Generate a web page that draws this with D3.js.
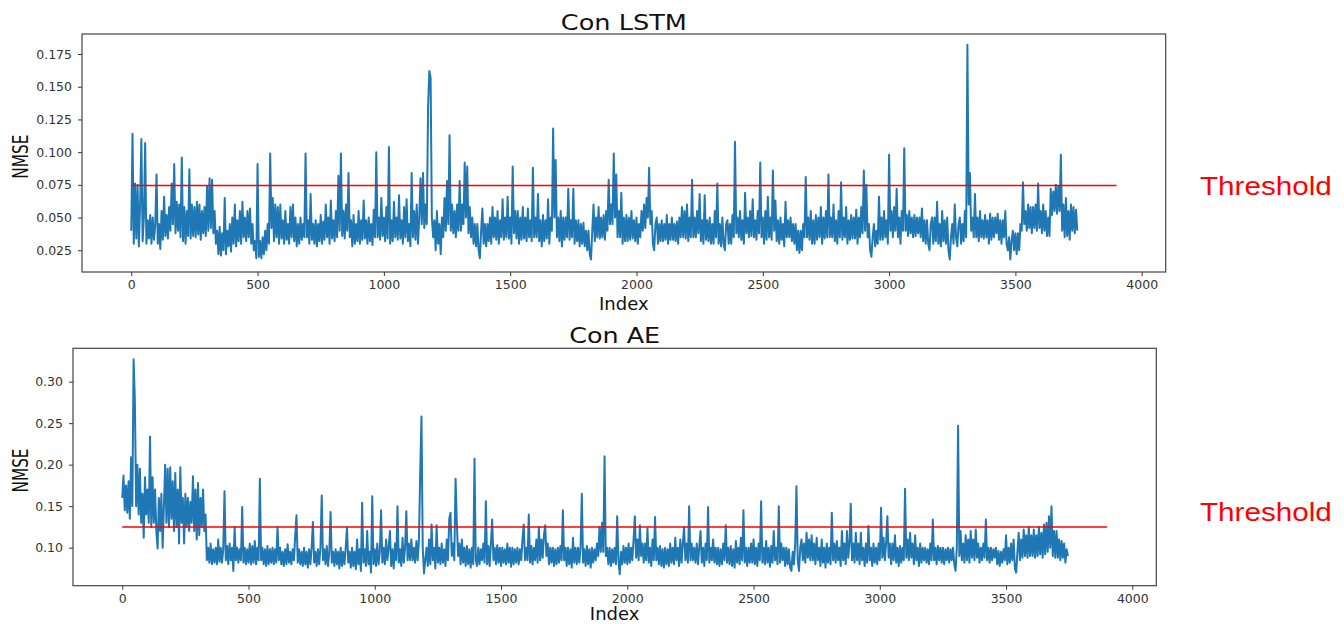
<!DOCTYPE html>
<html><head><meta charset="utf-8">
<script src="https://cdn.jsdelivr.net/npm/d3@7"></script>
<style>html,body{margin:0;padding:0;background:#fff;} svg{display:block;}</style>
</head><body>
<svg id="chart" width="1344" height="624"></svg>
<script>
// ---------- data ----------
const indexTicks = [0, 500, 1000, 1500, 2000, 2500, 3000, 3500, 4000];
const lstmYTicks = [0.025, 0.050, 0.075, 0.100, 0.125, 0.150, 0.175];
const aeYTicks = [0.10, 0.15, 0.20, 0.25, 0.30];
const sampleStep = 5; // index spacing of the values below (one row = 100 indices)
const lstmNmse = [
.040,.114,.030,.076,.034,.075,.028,.060,.110,.032,.050,.107,.030,.048,.034,.052,.030,.050,.033,.045,
.083,.030,.045,.026,.055,.033,.066,.036,.052,.034,.058,.040,.076,.045,.091,.038,.062,.040,.060,.035,
.096,.032,.058,.030,.055,.036,.087,.034,.060,.036,.058,.035,.062,.037,.060,.033,.055,.038,.058,.036,
.074,.040,.080,.042,.079,.038,.055,.030,.040,.022,.043,.021,.038,.025,.065,.022,.040,.028,.045,.024,
.050,.030,.060,.028,.048,.032,.055,.030,.062,.035,.050,.032,.055,.035,.057,.030,.045,.025,.032,.019,
.091,.020,.032,.019,.035,.022,.040,.025,.045,.030,.099,.042,.065,.032,.060,.035,.058,.030,.060,.034,
.048,.030,.055,.033,.045,.030,.058,.035,.060,.032,.050,.028,.045,.030,.050,.033,.045,.035,.099,.035,
.048,.030,.068,.033,.045,.030,.048,.028,.045,.032,.052,.030,.047,.033,.060,.035,.050,.030,.063,.034,
.048,.032,.055,.035,.082,.040,.099,.036,.055,.034,.060,.040,.084,.035,.048,.028,.052,.030,.045,.032,
.055,.030,.048,.033,.063,.034,.048,.030,.050,.032,.045,.029,.056,.035,.100,.035,.050,.033,.065,.036,
.050,.032,.058,.034,.104,.030,.048,.032,.062,.035,.050,.033,.067,.034,.048,.030,.058,.035,.064,.032,
.045,.028,.084,.035,.055,.033,.060,.030,.050,.080,.045,.084,.042,.060,.045,.135,.162,.157,.050,.035,
.048,.025,.055,.030,.045,.022,.050,.035,.065,.040,.078,.045,.113,.040,.060,.038,.055,.035,.060,.040,
.078,.040,.060,.045,.092,.050,.089,.038,.058,.035,.050,.030,.045,.028,.045,.025,.019,.040,.057,.030,
.045,.028,.045,.032,.050,.030,.058,.035,.050,.033,.055,.030,.048,.035,.064,.033,.050,.035,.066,.034,
.050,.030,.089,.038,.055,.034,.055,.030,.050,.033,.058,.034,.050,.032,.057,.035,.048,.032,.088,.035,
.050,.035,.068,.032,.048,.028,.052,.032,.048,.034,.064,.030,.050,.040,.118,.050,.094,.035,.050,.032,
.055,.028,.050,.033,.050,.035,.072,.033,.048,.035,.072,.030,.048,.032,.048,.028,.045,.030,.046,.028,
.040,.025,.040,.022,.018,.040,.060,.032,.050,.035,.058,.034,.050,.035,.052,.033,.055,.040,.079,.045,
.060,.045,.099,.050,.083,.035,.055,.035,.069,.030,.050,.032,.052,.032,.050,.033,.055,.034,.048,.032,
.050,.030,.045,.035,.055,.040,.060,.042,.065,.050,.088,.045,.055,.030,.025,.045,.050,.030,.045,.032,
.048,.032,.045,.033,.052,.030,.045,.033,.050,.033,.045,.032,.047,.030,.050,.035,.058,.035,.055,.034,
.060,.032,.050,.035,.079,.035,.050,.035,.055,.038,.068,.032,.048,.030,.067,.033,.048,.032,.050,.030,
.045,.030,.055,.035,.076,.030,.045,.028,.050,.030,.025,.045,.048,.030,.045,.030,.052,.035,.108,.038,
.050,.035,.055,.033,.048,.030,.069,.038,.050,.035,.055,.036,.064,.035,.048,.033,.055,.038,.092,.035,
.050,.030,.055,.033,.066,.035,.050,.033,.086,.040,.063,.032,.048,.030,.050,.033,.045,.028,.062,.035,
.048,.035,.050,.032,.045,.030,.045,.025,.040,.023,.040,.025,.045,.035,.081,.035,.050,.033,.055,.030,
.048,.030,.052,.033,.050,.035,.058,.030,.050,.034,.055,.035,.083,.035,.050,.035,.060,.032,.048,.030,
.055,.035,.077,.033,.050,.035,.058,.030,.048,.033,.052,.034,.050,.034,.056,.030,.050,.035,.058,.038,
.086,.040,.075,.035,.045,.025,.020,.035,.045,.028,.040,.030,.066,.033,.050,.033,.055,.035,.048,.030,
.098,.040,.055,.035,.058,.040,.072,.035,.050,.030,.055,.040,.103,.040,.052,.036,.055,.038,.050,.035,
.052,.036,.050,.038,.050,.035,.057,.032,.048,.030,.048,.030,.025,.045,.050,.030,.050,.032,.062,.030,
.045,.028,.055,.032,.048,.030,.050,.025,.018,.035,.045,.030,.060,.035,.028,.045,.050,.030,.045,.032,
.055,.035,.182,.060,.084,.040,.050,.035,.068,.035,.050,.032,.055,.035,.048,.034,.052,.035,.048,.030,
.053,.033,.050,.035,.050,.038,.053,.033,.048,.030,.048,.035,.055,.030,.025,.035,.018,.032,.040,.025,
.038,.022,.038,.025,.045,.040,.077,.045,.055,.040,.060,.042,.058,.038,.058,.042,.060,.040,.076,.042,
.055,.038,.060,.040,.055,.036,.050,.036,.072,.052,.070,.055,.075,.053,.074,.055,.098,.040,.060,.035,
.065,.036,.055,.033,.060,.040,.058,.038,.056,.040
];
const aeNmse = [
.160,.187,.145,.175,.142,.180,.135,.209,.150,.327,.277,.150,.200,.140,.195,.130,.165,.112,.185,.140,
.170,.130,.234,.125,.185,.130,.170,.120,.099,.160,.120,.165,.100,.150,.200,.130,.195,.125,.197,.135,
.180,.120,.190,.125,.170,.105,.197,.130,.160,.105,.165,.125,.160,.120,.155,.130,.186,.120,.170,.110,
.178,.115,.160,.125,.170,.120,.140,.085,.100,.082,.105,.080,.098,.082,.100,.080,.110,.083,.100,.082,
.098,.168,.085,.102,.080,.105,.085,.100,.072,.125,.085,.100,.082,.098,.085,.149,.082,.100,.080,.098,
.082,.105,.080,.102,.082,.108,.080,.100,.085,.183,.085,.100,.080,.098,.078,.102,.080,.098,.082,.100,
.080,.098,.082,.125,.085,.100,.080,.095,.078,.098,.080,.104,.082,.095,.080,.098,.085,.115,.139,.082,
.098,.080,.095,.078,.100,.080,.095,.076,.098,.080,.100,.131,.082,.095,.078,.098,.080,.100,.163,.085,
.098,.080,.102,.078,.095,.143,.082,.095,.078,.098,.080,.095,.075,.100,.078,.095,.080,.100,.124,.082,
.095,.076,.100,.078,.095,.074,.110,.080,.098,.072,.154,.082,.098,.078,.120,.080,.095,.070,.162,.080,
.098,.078,.105,.080,.095,.145,.082,.100,.080,.110,.085,.100,.120,.078,.098,.075,.105,.085,.150,.082,
.098,.078,.112,.082,.100,.144,.085,.105,.085,.110,.085,.100,.082,.108,.085,.110,.190,.258,.100,.069,
.085,.100,.078,.110,.080,.128,.085,.100,.075,.127,.082,.100,.080,.105,.082,.098,.078,.110,.085,.135,
.142,.090,.105,.085,.183,.130,.090,.105,.080,.110,.082,.100,.078,.102,.080,.098,.076,.100,.080,.207,
.085,.078,.100,.080,.098,.085,.105,.082,.156,.080,.102,.078,.105,.134,.085,.100,.080,.103,.082,.100,
.078,.100,.082,.098,.080,.105,.082,.100,.077,.100,.080,.098,.082,.100,.080,.098,.085,.110,.128,.085,
.100,.085,.140,.082,.102,.080,.100,.085,.110,.082,.125,.085,.110,.088,.115,.127,.090,.105,.080,.100,
.082,.100,.078,.098,.080,.100,.082,.102,.085,.145,.085,.100,.078,.100,.080,.098,.076,.112,.082,.100,
.080,.100,.082,.100,.165,.082,.098,.078,.102,.080,.098,.076,.100,.082,.098,.085,.105,.090,.125,.095,
.130,.095,.210,.090,.100,.080,.100,.078,.098,.082,.100,.080,.138,.085,.068,.095,.080,.102,.082,.100,
.080,.105,.082,.100,.085,.110,.138,.088,.110,.085,.127,.090,.105,.082,.105,.085,.123,.082,.100,.078,
.110,.085,.137,.085,.100,.080,.102,.078,.098,.076,.100,.080,.098,.078,.105,.082,.100,.080,.112,.085,
.100,.078,.110,.082,.105,.125,.085,.105,.082,.150,.085,.105,.085,.100,.082,.105,.080,.100,.120,.082,
.100,.078,.105,.085,.149,.082,.100,.085,.110,.082,.100,.080,.100,.078,.098,.080,.105,.085,.127,.082,
.100,.080,.102,.078,.098,.076,.108,.082,.100,.080,.112,.085,.145,.082,.100,.078,.100,.082,.105,.082,
.110,.080,.100,.078,.105,.085,.156,.082,.100,.080,.108,.082,.100,.077,.102,.082,.120,.085,.100,.080,
.150,.082,.105,.085,.100,.078,.100,.080,.098,.076,.072,.095,.080,.105,.174,.085,.072,.100,.110,.085,
.105,.082,.118,.088,.110,.085,.115,.085,.105,.080,.112,.085,.100,.078,.110,.082,.100,.076,.105,.082,
.100,.080,.142,.085,.105,.082,.108,.085,.100,.078,.120,.085,.105,.080,.120,.088,.105,.153,.085,.105,
.082,.118,.085,.105,.080,.118,.085,.100,.078,.105,.082,.126,.085,.100,.078,.105,.082,.100,.080,.105,
.085,.148,.088,.112,.085,.105,.138,.088,.105,.080,.105,.085,.115,.082,.100,.078,.102,.082,.100,.085,
.171,.088,.110,.085,.118,.088,.105,.080,.115,.085,.100,.078,.105,.082,.100,.085,.100,.082,.098,.080,
.105,.085,.134,.085,.100,.080,.102,.085,.100,.082,.100,.080,.098,.085,.100,.082,.098,.085,.100,.080,
.072,.100,.247,.090,.120,.085,.105,.082,.115,.085,.110,.082,.120,.088,.110,.085,.122,.088,.105,.082,
.100,.085,.105,.088,.134,.085,.100,.082,.100,.085,.098,.088,.100,.080,.096,.078,.095,.082,.098,.085,
.115,.080,.100,.082,.105,.085,.110,.075,.070,.095,.118,.085,.110,.088,.122,.090,.115,.088,.125,.090,
.115,.090,.122,.088,.115,.090,.125,.092,.118,.088,.128,.092,.130,.095,.138,.100,.150,.090,.120,.088,
.120,.088,.110,.085,.108,.088,.105,.082,.098,.090
];
const lstmThreshold = 0.0745;
const aeThreshold = 0.125;
const thresholdSpan = [0, 3900];
const panelTitles = ["Con LSTM", "Con AE"];
const xLabel = "Index";
const yLabel = "NMSE";
const thresholdLabel = "Threshold";

// ---------- layout ----------
const svg = d3.select("#chart");
const panels = [
  {title: panelTitles[0], values: lstmNmse, thr: lstmThreshold, yTicks: lstmYTicks, fmt: ".3f",
   left: 82, right: 1165.7, top: 34, bottom: 272, yDomain: [0.0084, 0.1903],
   titleY: 29.5, titleLen: 126, indexY: 309.5, nmseY: 156.7, thrTextY: 195},
  {title: panelTitles[1], values: aeNmse, thr: aeThreshold, yTicks: aeYTicks, fmt: ".2f",
   left: 73, right: 1156.3, top: 348.3, bottom: 585.7, yDomain: [0.0542, 0.3402],
   titleY: 343, titleLen: 91, indexY: 620, nmseY: 470.5, thrTextY: 521}
];

panels.forEach(p => {
  const x = d3.scaleLinear().domain([-195, 4095]).range([p.left, p.right]);
  const y = d3.scaleLinear().domain(p.yDomain).range([p.bottom, p.top]);
  const g = svg.append("g");

  // series
  const line = d3.line().x((d, i) => x(i * sampleStep)).y(d => y(d));
  g.append("path").datum(p.values)
    .attr("d", line).attr("fill", "none")
    .attr("stroke", "#1f77b4").attr("stroke-width", 2.0)
    .attr("stroke-linejoin", "round");

  // threshold
  g.append("path").datum(thresholdSpan.map(v => [v, p.thr]))
    .attr("d", d3.line().x(d => x(d[0])).y(d => y(d[1])))
    .attr("stroke", "#ff0000").attr("stroke-width", 1.6).attr("fill", "none");

  // axes
  const xa = g.append("g").attr("transform", `translate(0,${p.bottom})`)
    .call(d3.axisBottom(x).tickValues(indexTicks).tickFormat(d3.format("d")).tickSize(4).tickPadding(4));
  const ya = g.append("g").attr("transform", `translate(${p.left},0)`)
    .call(d3.axisLeft(y).tickValues(p.yTicks).tickFormat(d3.format(p.fmt)).tickSize(4).tickPadding(6));
  [xa, ya].forEach(a => {
    a.select(".domain").remove();
    a.selectAll("line").attr("stroke", "#333");
    a.selectAll("text").attr("font-family", "DejaVu Sans").attr("font-size", 12.5).attr("fill", "#333");
  });

  // frame
  g.append("rect").attr("x", p.left).attr("y", p.top)
    .attr("width", p.right - p.left).attr("height", p.bottom - p.top)
    .attr("fill", "none").attr("stroke", "#444").attr("stroke-width", 1.2);

  const cx = (p.left + p.right) / 2;
  g.append("text").text(p.title).attr("x", cx).attr("y", p.titleY)
    .attr("text-anchor", "middle").attr("font-family", "DejaVu Sans").attr("font-size", 22)
    .attr("textLength", p.titleLen).attr("lengthAdjust", "spacingAndGlyphs").attr("fill", "#111");
  g.append("text").text(xLabel).attr("x", cx).attr("y", p.indexY)
    .attr("text-anchor", "middle").attr("font-family", "DejaVu Sans").attr("font-size", 18).attr("fill", "#111");
  g.append("text").text(yLabel)
    .attr("transform", `translate(28.3,${p.nmseY}) rotate(-90)`)
    .attr("text-anchor", "middle").attr("font-family", "DejaVu Sans").attr("font-size", 21.5)
    .attr("textLength", 44).attr("lengthAdjust", "spacingAndGlyphs").attr("fill", "#111");
  g.append("text").text(thresholdLabel).attr("x", 1200).attr("y", p.thrTextY)
    .attr("font-family", "Liberation Sans").attr("font-size", 25.6)
    .attr("textLength", 131.7).attr("lengthAdjust", "spacingAndGlyphs").attr("fill", "#ff0000");
});
</script>
</body></html>
